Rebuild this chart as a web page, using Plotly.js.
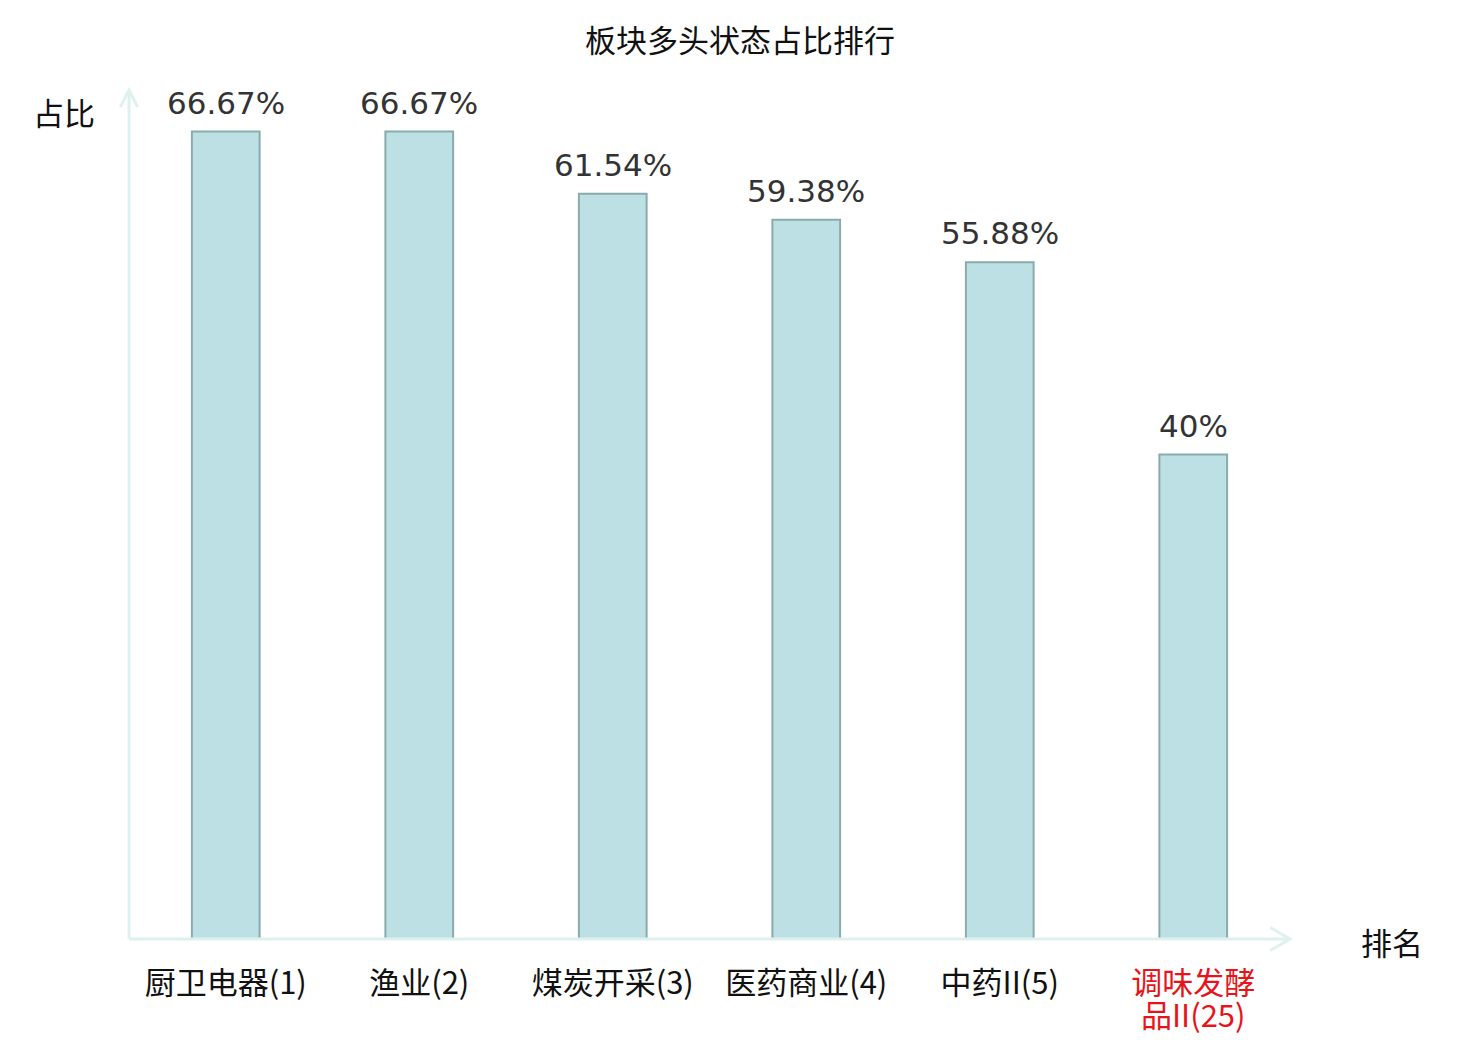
<!DOCTYPE html>
<html>
<head>
<meta charset="utf-8">
<script src="https://cdn.plot.ly/plotly-3.0.1.min.js"></script>
<style>
  html, body { margin: 0; padding: 0; background: #fff; }
  #chart { width: 1480px; height: 1040px; }
</style>
</head>
<body>
<div id="chart"></div>
<script>
// данные графика
var categories = ['厨卫电器(1)', '渔业(2)', '煤炭开采(3)', '医药商业(4)', '中药II(5)', '调味发酵<br>品II(25)'];
var values = [66.67, 66.67, 61.54, 59.38, 55.88, 40];
var valueLabels = ['66.67%', '66.67%', '61.54%', '59.38%', '55.88%', '40%'];
var labelColors = ['#111', '#111', '#111', '#111', '#111', '#e8141b'];

var cjk = 'Noto Sans CJK SC, sans-serif';
var axisColor = '#dff1ef';

var xIdx = categories.map(function(c, i){ return i; });
// строки с переносом: каждую часть оборачиваем отдельно
var tickText = categories.map(function(c, i){
	return c.split('<br>').map(function(part){
		return '<span style="color:' + labelColors[i] + ';font-size:31px">' + part + '</span>';
	}).join('<br>');
});

var bars = {
	x: xIdx,
	y: values,
	type: 'bar',
	width: 0.35,
	marker: {
		color: '#bce0e3',
		line: {color: '#8aabab', width: 2}
	},
	hoverinfo: 'none'
};

// подписи над столбцами
var annotations = xIdx.map(function(i){
	return {
		x: i, y: values[i], xref: 'x', yref: 'y',
		text: valueLabels[i], showarrow: false,
		yanchor: 'bottom', yshift: 9,
		font: {family: 'DejaVu Sans, sans-serif', size: 31, color: '#333'}
	};
});
annotations.push({
	xref: 'paper', yref: 'paper', x: -0.056, y: 0.975,
	text: '占比', showarrow: false, xanchor: 'center', yanchor: 'middle',
	font: {family: cjk, size: 31, color: '#111'}
});
annotations.push({
	xref: 'paper', yref: 'paper', x: 1.088, y: -0.003,
	text: '排名', showarrow: false, xanchor: 'center', yanchor: 'middle',
	font: {family: cjk, size: 31, color: '#111'}
});

// оси со стрелками
var shapes = [
	{type: 'line', xref: 'paper', yref: 'paper', x0: 0, y0: 0, x1: 1, y1: 0,
		line: {color: axisColor, width: 3}},
	{type: 'line', xref: 'paper', yref: 'paper', x0: 0, y0: 0, x1: 0, y1: 1,
		line: {color: axisColor, width: 3}},
	{type: 'path', xref: 'paper', yref: 'paper',
		path: 'M 0.983,0.0135 L 1,0 L 0.983,-0.0135',
		line: {color: axisColor, width: 3}},
	{type: 'path', xref: 'paper', yref: 'paper',
		path: 'M -0.0075,0.98 L 0,1 L 0.0075,0.98',
		line: {color: axisColor, width: 3}}
];

var layout = {
	width: 1480,
	height: 1040,
	margin: {l: 129, r: 190, t: 90, b: 101},
	paper_bgcolor: '#fff',
	plot_bgcolor: '#fff',
	showlegend: false,
	title: {
		text: '板块多头状态占比排行',
		x: 0.5, xref: 'container', xanchor: 'center',
		y: 0.96, yref: 'container', yanchor: 'middle',
		font: {family: cjk, size: 31, color: '#111'}
	},
	xaxis: {
		range: [-0.5, 5.5],
		tickvals: xIdx,
		ticktext: tickText,
		showgrid: false,
		zeroline: false,
		showline: false,
		ticks: '',
		ticklabelstandoff: 29,
		tickfont: {family: cjk, size: 25, color: '#111'},
		fixedrange: true
	},
	yaxis: {
		range: [0, 70.1],
		showgrid: false,
		zeroline: false,
		showline: false,
		showticklabels: false,
		ticks: '',
		fixedrange: true
	},
	annotations: annotations,
	shapes: shapes
};

Plotly.newPlot('chart', [bars], layout, {displayModeBar: false, staticPlot: true});
</script>
</body>
</html>
